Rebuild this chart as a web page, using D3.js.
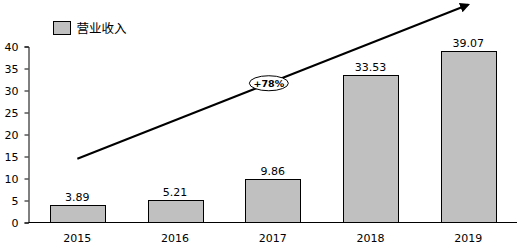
<!DOCTYPE html>
<meta charset="utf-8">
<script src="https://d3js.org/d3.v7.min.js"></script>
<style>
    body { margin: 0; background: #fff; }
    svg { display: block; font-family: "DejaVu Sans", Verdana, sans-serif; }
</style>
<div id="chart"></div>
<script>
    // data
    var years = ["2015", "2016", "2017", "2018", "2019"];
    var revenue = [3.89, 5.21, 9.86, 33.53, 39.07];
    var yTicks = [0, 5, 10, 15, 20, 25, 30, 35, 40];
    var seriesName = "营业收入";
    // trend arrow: [year, value] start and end, plus label
    var arrowFrom = ["2015", 14.5], arrowTo = ["2019", 49.5];
    var growthLabel = "+78%";

    var W = 519, H = 246;
    var svg = d3.select("#chart").append("svg")
        .attr("width", W).attr("height", H);

    var x = d3.scaleBand().domain(years).range([28.5, 517])
        .paddingInner(0.44).paddingOuter(0.22);
    var y = d3.scaleLinear().domain([0, 40]).range([222.5, 46.5]);

    // y axis
    var yAxis = svg.append("g")
        .attr("transform", "translate(28.5,0)")
        .call(d3.axisLeft(y).tickValues(yTicks).tickSize(4).tickPadding(6));
    yAxis.select(".domain").attr("stroke", "#000");
    yAxis.selectAll("line").attr("stroke", "#000");
    yAxis.selectAll("text").attr("font-size", 11).attr("fill", "#000")
        .attr("font-family", "DejaVu Sans, sans-serif");

    // bars
    svg.selectAll("rect.bar")
        .data(revenue)
        .enter().append("rect")
        .attr("class", "bar")
        .attr("x", function (d, i) { return Math.round(x(years[i])) + 0.5; })
        .attr("y", function (d) { return Math.round(y(d)) + 0.5; })
        .attr("width", Math.round(x.bandwidth()))
        .attr("height", function (d) { return y(0) - Math.round(y(d)) - 0.5; })
        .attr("fill", "#c0c0c0")
        .attr("stroke", "#000")
        .attr("stroke-width", 1);

    // value labels
    svg.selectAll("text.val")
        .data(revenue)
        .enter().append("text")
        .attr("class", "val")
        .attr("x", function (d, i) { return x(years[i]) + x.bandwidth() / 2; })
        .attr("y", function (d) { return y(d) - 4; })
        .attr("text-anchor", "middle")
        .attr("font-size", 11)
        .text(function (d) { return d.toFixed(2); });

    // x axis (line only)
    svg.append("line")
        .attr("x1", 28.5).attr("x2", 517)
        .attr("y1", y(0)).attr("y2", y(0))
        .attr("stroke", "#000");

    svg.selectAll("text.year")
        .data(years)
        .enter().append("text")
        .attr("class", "year")
        .attr("x", function (d) { return x(d) + x.bandwidth() / 2; })
        .attr("y", 242)
        .attr("text-anchor", "middle")
        .attr("font-size", 11)
        .text(function (d) { return d; });

    // trend arrow
    svg.append("defs").append("marker")
        .attr("id", "head")
        .attr("viewBox", "0 0 10 10")
        .attr("refX", 8).attr("refY", 5)
        .attr("markerWidth", 5).attr("markerHeight", 5)
        .attr("orient", "auto")
        .append("path").attr("d", "M0,0L10,5L0,10z").attr("fill", "#000");

    var ax1 = x(arrowFrom[0]) + x.bandwidth() / 2, ay1 = y(arrowFrom[1]);
    var ax2 = x(arrowTo[0]) + x.bandwidth() / 2, ay2 = y(arrowTo[1]);
    svg.append("line")
        .attr("x1", ax1).attr("y1", ay1)
        .attr("x2", ax2).attr("y2", ay2)
        .attr("stroke", "#000").attr("stroke-width", 2)
        .attr("marker-end", "url(#head)");

    var mx = ax1 + (ax2 - ax1) * 0.49, my = ay1 + (ay2 - ay1) * 0.49;
    svg.append("ellipse")
        .attr("cx", mx).attr("cy", my)
        .attr("rx", 19.5).attr("ry", 7.5)
        .attr("fill", "#fff").attr("stroke", "#000");
    svg.append("text")
        .attr("x", mx).attr("y", my + 3.5)
        .attr("text-anchor", "middle")
        .attr("font-size", 9.5).attr("font-weight", "bold")
        .text(growthLabel);

    // legend
    var legend = svg.append("g").attr("transform", "translate(53.5,21.5)");
    legend.append("rect")
        .attr("width", 17).attr("height", 13)
        .attr("fill", "#c0c0c0").attr("stroke", "#000");
    legend.append("text")
        .attr("x", 23).attr("y", 11)
        .attr("font-size", 12.5)
        .attr("font-family", "Noto Sans CJK SC, sans-serif")
        .text(seriesName);
</script>
